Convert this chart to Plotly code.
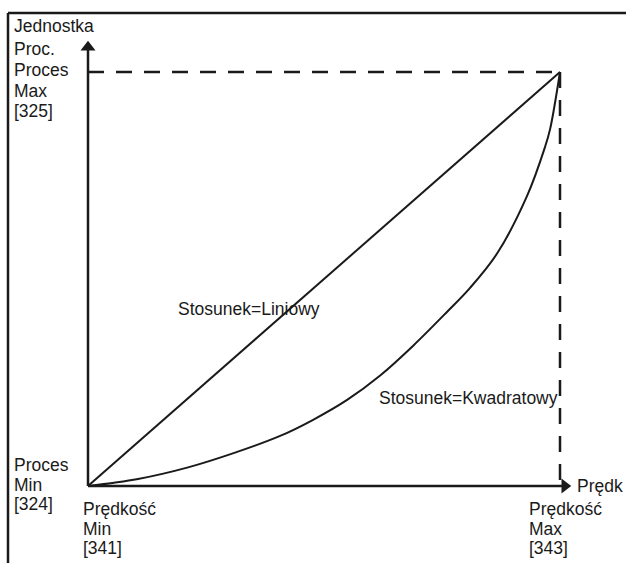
import plotly.graph_objects as go

# Normalised speed (0 = Prędkość Min, 1 = Prędkość Max) and process value (0 = Proces Min, 1 = Proces Max)
speed_linear = [0.0, 1.0]
process_linear = [0.0, 1.0]

speed_quad = [0.0, 0.106, 0.212, 0.310, 0.407, 0.477, 0.549, 0.619, 0.689, 0.761,
              0.809, 0.867, 0.930, 0.968, 0.979, 1.0]
process_quad = [0.0, 0.017, 0.045, 0.080, 0.121, 0.160, 0.208, 0.267, 0.339, 0.421,
                0.478, 0.562, 0.700, 0.818, 0.862, 1.0]

# Reference lines to the max corner
speed_max_h = [0.0, 1.0]
process_max_h = [1.0, 1.0]
speed_max_v = [1.0, 1.0]
process_max_v = [1.0, 0.0]

# Axis arrows
y_axis_x = [0.0, 0.0]
y_axis_y = [0.0, 1.06]
x_axis_x = [0.0, 1.01]
x_axis_y = [0.0, 0.0]

W, H = 626, 563
X0_PX, X1_PX = 88, 560   # pixel columns of speed 0 and 1
Y0_PX, Y1_PX = 486, 72   # pixel rows of process 0 and 1
sx = X1_PX - X0_PX
sy = Y0_PX - Y1_PX
x_range = [-X0_PX / sx, (W - X0_PX) / sx]
y_range = [-(H - Y0_PX) / sy, Y0_PX / sy]

INK = "#1a1a1a"
FONT = "Liberation Sans, Arial, sans-serif"
FS = 17.5

fig = go.Figure()

fig.add_trace(go.Scatter(x=speed_max_h, y=process_max_h, mode="lines",
                         line=dict(color=INK, width=2.5, dash="16px,12px")))
fig.add_trace(go.Scatter(x=speed_max_v, y=process_max_v, mode="lines",
                         line=dict(color=INK, width=2.5, dash="16px,12px")))
fig.add_trace(go.Scatter(x=speed_linear, y=process_linear, mode="lines",
                         line=dict(color=INK, width=2)))
fig.add_trace(go.Scatter(x=speed_quad, y=process_quad, mode="lines",
                         line=dict(color=INK, width=2, shape="spline", smoothing=1.0)))
fig.add_trace(go.Scatter(x=y_axis_x, y=y_axis_y, mode="lines",
                         line=dict(color=INK, width=2.5)))
fig.add_trace(go.Scatter(x=x_axis_x, y=x_axis_y, mode="lines",
                         line=dict(color=INK, width=2.5)))
# Arrow heads at the axis ends
fig.add_trace(go.Scatter(x=[y_axis_x[1]], y=[y_axis_y[1]], mode="markers",
                         marker=dict(symbol="triangle-up", size=13, color=INK)))
fig.add_trace(go.Scatter(x=[x_axis_x[1]], y=[x_axis_y[1]], mode="markers",
                         marker=dict(symbol="triangle-right", size=13, color=INK)))


def px_label(text, x_px, y_px, size=FS):
    fig.add_annotation(text=text, xref="paper", yref="paper",
                       x=x_px / W, y=1 - y_px / H,
                       xanchor="left", yanchor="middle", showarrow=False,
                       font=dict(family=FONT, size=size, color=INK))


# Y-axis labels
for line, yp in zip(["Jednostka", "Proc.", "Proces", "Max", "[325]"], [26, 49, 70, 91, 111]):
    px_label(line, 12, yp)
for line, yp in zip(["Proces", "Min", "[324]"], [465, 485, 504]):
    px_label(line, 12, yp)
# X-axis labels
for line, yp in zip(["Prędkość", "Min", "[341]"], [509, 529, 548]):
    px_label(line, 81, yp)
for line, yp in zip(["Prędkość", "Max", "[343]"], [509, 529, 548]):
    px_label(line, 527, yp)
px_label("Prędk", 575, 486)
# Curve labels
px_label("Stosunek=Liniowy", 176, 309)
px_label("Stosunek=Kwadratowy", 377, 398)

# Outer frame (top and left edges)
fig.add_shape(type="line", xref="paper", yref="paper",
              x0=8 / W, y0=1 - 13 / H, x1=1.0, y1=1 - 13 / H,
              line=dict(color=INK, width=2.5))
fig.add_shape(type="line", xref="paper", yref="paper",
              x0=8 / W, y0=1 - 13 / H, x1=8 / W, y1=0.0,
              line=dict(color=INK, width=2.5))

fig.update_layout(
    width=W, height=H,
    margin=dict(l=0, r=0, t=0, b=0),
    paper_bgcolor="white", plot_bgcolor="white",
    showlegend=False,
    xaxis=dict(range=x_range, visible=False, fixedrange=True),
    yaxis=dict(range=y_range, visible=False, fixedrange=True),
)

fig.write_html("out.html")
